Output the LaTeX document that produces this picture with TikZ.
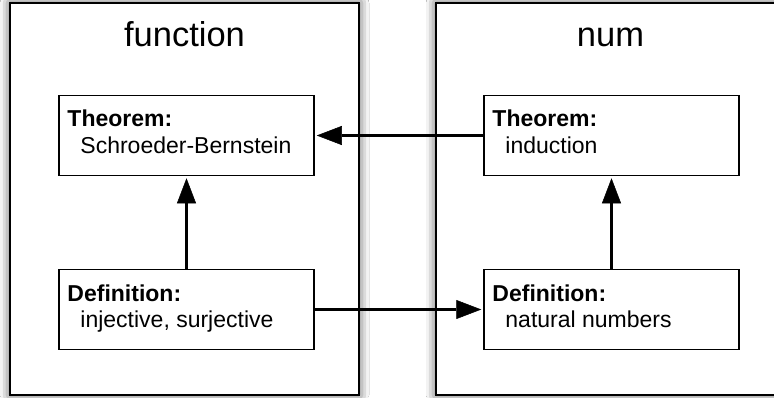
\documentclass[tikz,border=0pt]{standalone}
\usepackage{fontspec}
\setmainfont{Liberation Sans}
\usetikzlibrary{shadows.blur,arrows.meta}
\begin{document}
\begin{tikzpicture}[x=1pt,y=1pt,
  modbox/.style={draw=black,line width=2pt,fill=white,
    blur shadow={shadow xshift=0pt,shadow yshift=0pt,shadow blur radius=10pt,shadow opacity=75}},
  itembox/.style={draw=black,line width=1.5pt,fill=white,minimum width=255pt,minimum height=80pt,inner sep=0pt},
  headtext/.style={font=\fontsize{23}{26}\selectfont\bfseries,anchor=base west,inner sep=0pt},
  bodytext/.style={font=\fontsize{23}{26}\selectfont,anchor=base west,inner sep=0pt},
  title/.style={font=\fontsize{34.5}{38}\selectfont,inner sep=0pt,anchor=base},
  link/.style={line width=3.5pt,shorten >=2pt,-{Triangle[length=25pt,width=19pt,fill=black,line width=0.5pt]}}]
\useasboundingbox (0,0) rectangle (774,397);
\clip (0,0) rectangle (774,397);
\fill[white] (0,0) rectangle (774,397);
% module boxes
\path[modbox] (10,2) rectangle (359,394);
\path[modbox] (436,2) rectangle (795,394);
\node[title] (tf) at (184.5,350) {function};
\node[title] (tn) at (610.5,350) {num};
% item boxes
\node[itembox] (thl) at (186.5,261.5) {};
\node[itembox] (dfl) at (186.5,87.5) {};
\node[itembox] (thr) at (611.5,261.5) {};
\node[itembox] (dfr) at (611.5,87.5) {};
\node[headtext] (thlh) at ([xshift=9pt,yshift=-32pt]thl.north west) {Theorem:};
\node[bodytext] (thlb) at ([xshift=22pt,yshift=-59pt]thl.north west) {Schroeder-Bernstein};
\node[headtext] (dflh) at ([xshift=9pt,yshift=-33pt]dfl.north west) {Definition:};
\node[bodytext] (dflb) at ([xshift=22pt,yshift=-59pt]dfl.north west) {injective, surjective};
\node[headtext] (thrh) at ([xshift=9pt,yshift=-32pt]thr.north west) {Theorem:};
\node[bodytext] (thrb) at ([xshift=22pt,yshift=-59pt]thr.north west) {induction};
\node[headtext] (dfrh) at ([xshift=9pt,yshift=-33pt]dfr.north west) {Definition:};
\node[bodytext] (dfrb) at ([xshift=22pt,yshift=-59pt]dfr.north west) {natural numbers};
% links
\draw[link] (dfl.north) -- (thl.south);
\draw[link] (dfr.north) -- (thr.south);
\draw[link] (thr.west) -- (thl.east);
\draw[link] (dfl.east) -- (dfr.west);
\end{tikzpicture}
\end{document}
